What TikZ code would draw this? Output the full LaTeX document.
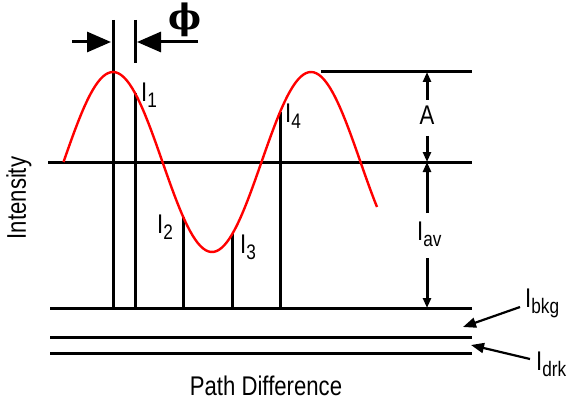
\documentclass[tikz,border=0pt]{standalone}
\usepackage{fontspec}
\setmainfont{Liberation Sans}
\newfontfamily\phifont{DejaVu Serif}
\usetikzlibrary{arrows.meta}

\newcommand{\narrow}[1]{\scalebox{0.82}[1]{#1}}
\newcommand{\Isub}[1]{\narrow{I\raisebox{-6pt}{\fontsize{21}{21}\selectfont #1}}}
\newcommand{\wavey}[1]{162-90*cos(1.81818*((#1)-113))}

\tikzset{
  guide/.style={line width=3pt},
  wave/.style={red, line width=2.4pt},
  lbl/.style={font=\fontsize{27}{27}\selectfont, inner sep=0pt},
  dimtip/.style={-{Triangle[length=10pt,width=8pt]}},
  bigtip/.style={-{Triangle[length=24pt,width=20pt]}},
  ptr/.style={line width=2.2pt, -{Triangle[length=13pt,width=10pt]}}
}

\begin{document}
\begin{tikzpicture}[x=1pt, y=-1pt]
  \useasboundingbox (0,0) rectangle (577,406);

  % --- levels ---
  \draw[guide] (321,72) -- (472,72);
  \draw[guide] (48,162) -- (472,162);
  \draw[guide] (50,308) -- (472,308);
  \draw[guide] (50,337) -- (472,337);
  \draw[guide] (50,353) -- (472,353);

  % --- sample lines ---
  \draw[guide] (113,20) -- (113,308);
  \draw[guide] (135,20) -- (135,63);
  \foreach \xs in {135,183,232,280}
    \draw[guide] (\xs,{\wavey{\xs}}) -- (\xs,308);

  % --- phase offset ---
  \node[font=\fontsize{35}{35}\selectfont\phifont\bfseries, inner sep=0pt] (phi) at (185,20) {ϕ};
  \draw[guide, bigtip] (72,42) -- (111,42);
  \draw[guide, bigtip] (198,42) -- (137,42);

  % --- A and I_av ---
  \node[lbl, anchor=base] (la) at (427,125) {\narrow{A}};
  \node[lbl, anchor=base west] (lav) at (417,240) {\Isub{av}};
  \coordinate (atop) at (427,72);
  \coordinate (amid) at (427,162);
  \coordinate (abot) at (427,308);
  \draw[guide, dimtip] (427,100) -- (atop);
  \draw[guide, dimtip] (427,136) -- (amid);
  \draw[guide, dimtip] (427,213) -- (amid);
  \draw[guide, dimtip] (427,258) -- (abot);

  % --- sample labels ---
  \node[lbl, anchor=base west] (l1) at (141,102) {\Isub{1}};
  \node[lbl, anchor=base west] (l2) at (157,233) {\Isub{2}};
  \node[lbl, anchor=base west] (l3) at (240,253) {\Isub{3}};
  \node[lbl, anchor=base west] (l4) at (285,123) {\Isub{4}};

  % --- background and dark ---
  \node[lbl, anchor=base west] (lbkg) at (525,307) {\Isub{bkg}};
  \node[lbl, anchor=base west] (ldrk) at (536,370) {\Isub{drk}};
  \coordinate (bkgfrom) at (520,307);
  \coordinate (bkgto) at (463,327);
  \coordinate (drkfrom) at (530,359);
  \coordinate (drkto) at (471,345);
  \draw[ptr] (bkgfrom) -- (bkgto);
  \draw[ptr] (drkfrom) -- (drkto);

  % --- axes ---
  \node[lbl, rotate=90] (ylab) at (19,198) {\narrow{Intensity}};
  \node[lbl, anchor=base] (xlab) at (266,395) {\narrow{Path Difference}};

  % --- wave ---
  \draw[wave] plot[domain=63.5:377, samples=120] (\x,{\wavey{\x}});
\end{tikzpicture}
\end{document}
